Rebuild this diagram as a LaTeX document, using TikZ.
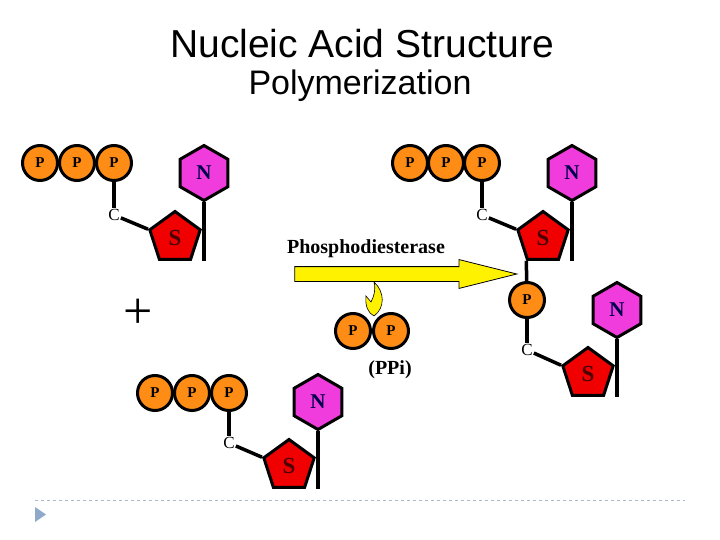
\documentclass[tikz,border=0pt]{standalone}
\usepackage{fontspec}
\setmainfont{Liberation Serif}
\newfontfamily\headfont{Liberation Sans}
\usepackage{tikz}
\usetikzlibrary{shapes.geometric,shapes.arrows}
\definecolor{phosorange}{RGB}{255,140,20}
\definecolor{basepink}{RGB}{240,60,220}
\definecolor{sugarred}{RGB}{240,0,0}
\definecolor{sepgray}{RGB}{175,185,195}
\definecolor{bulletblue}{RGB}{143,169,200}

\begin{document}
\begin{tikzpicture}[x=1pt, y=-1pt,
  phos/.style={circle, draw, line width=3pt, fill=phosorange, minimum size=35pt,
               inner sep=0pt, font=\bfseries\fontsize{15}{15}\selectfont},
  sugar/.style={regular polygon, regular polygon sides=5, draw, line width=3pt,
                fill=sugarred, minimum size=53pt, inner sep=0pt,
                text=black!70!red, font=\bfseries\fontsize{23}{23}\selectfont},
  base/.style={regular polygon, regular polygon sides=6, shape border rotate=30,
               draw, line width=3pt, fill=basepink, minimum size=55pt, inner sep=0pt,
               text=black!70!blue, font=\bfseries\fontsize{21}{21}\selectfont},
  carb/.style={inner sep=1pt, font=\fontsize{17}{17}\selectfont},
  bond/.style={line width=3.5pt},
  lbl/.style={font=\bfseries\fontsize{20}{20}\selectfont},
]
\useasboundingbox (0,0) rectangle (720,540);

% Title
\node[font=\headfont\fontsize{39}{39}\selectfont] (title) at (362,44) {Nucleic Acid Structure};
\node[font=\headfont\fontsize{34}{34}\selectfont] (sub) at (360,86) {Polymerization};

% Nucleotide, top left
\node[phos] (pa1) at (40,163) {P};
\node[phos] (pa2) at (77,163) {P};
\node[phos] (pa3) at (114,163) {P};
\node[carb] (ca) at (114,215) {C};
\node[sugar] (sa) at (175,238) {S};
\node[base] (na) at (204,173) {N};
\draw[bond] (pa3) -- (ca);
\draw[bond] (ca) -- (sa.corner 2);
\draw[bond] (na.south) -- (na.south |- sa.corner 3);

% Nucleotide, top right
\node[phos] (pb1) at (410,163) {P};
\node[phos] (pb2) at (446,163) {P};
\node[phos] (pb3) at (482,163) {P};
\node[carb] (cb) at (482,215) {C};
\node[sugar] (sb) at (543,238) {S};
\node[base] (nb) at (572,173) {N};
\draw[bond] (pb3) -- (cb);
\draw[bond] (cb) -- (sb.corner 2);
\draw[bond] (nb.south) -- (nb.south |- sb.corner 3);

% Nucleotide, bottom left
\node[phos] (pc1) at (155,393) {P};
\node[phos] (pc2) at (192,393) {P};
\node[phos] (pc3) at (229,393) {P};
\node[carb] (cc) at (229,443) {C};
\node[sugar] (sc) at (289,466) {S};
\node[base] (nc) at (318,402) {N};
\draw[bond] (pc3) -- (cc);
\draw[bond] (cc) -- (sc.corner 2);
\draw[bond] (nc.south) -- (nc.south |- sc.corner 3);

% Chain product, bottom right
\node[phos] (pd1) at (527,300) {P};
\node[carb] (cd) at (527,350) {C};
\node[sugar] (sd) at (588,374) {S};
\node[base] (nd) at (617,310) {N};
\draw[bond] (sb.corner 3) -- (pd1);
\draw[bond] (pd1) -- (cd);
\draw[bond] (cd) -- (sd.corner 2);
\draw[bond] (nd.south) -- (nd.south |- sd.corner 3);

\node[font=\fontsize{52}{52}\selectfont] (plus) at (138,314) {+};

% Enzyme arrow and released pyrophosphate
\node[lbl] (enz) at (366,249) {Phosphodiesterase};
\node[single arrow, draw, line width=0.8pt, fill=yellow, minimum height=222pt,
      inner sep=7pt, single arrow head extend=7pt, single arrow tip angle=28] (rxn) at (391,274) {};
\node[phos] (pe1) at (353,331) {P};
\node[phos] (pe2) at (391,331) {P};
\node[lbl] (ppi) at (390,370) {(PPi)};
\draw[fill=yellow, line width=0.6pt] (374,282) .. controls (385,292) and (385,308) .. (374,316)
  .. controls (368,313) and (365,306) .. (366,296) -- (371,302)
  .. controls (374,296) and (376,290) .. (374,282);

% Slide footer
\draw[sepgray, dashed, line width=0.8pt] (35,500) -- (685,500);
\fill[bulletblue] (35,507) -- (46,514.5) -- (35,522) -- cycle;
\end{tikzpicture}
\end{document}
